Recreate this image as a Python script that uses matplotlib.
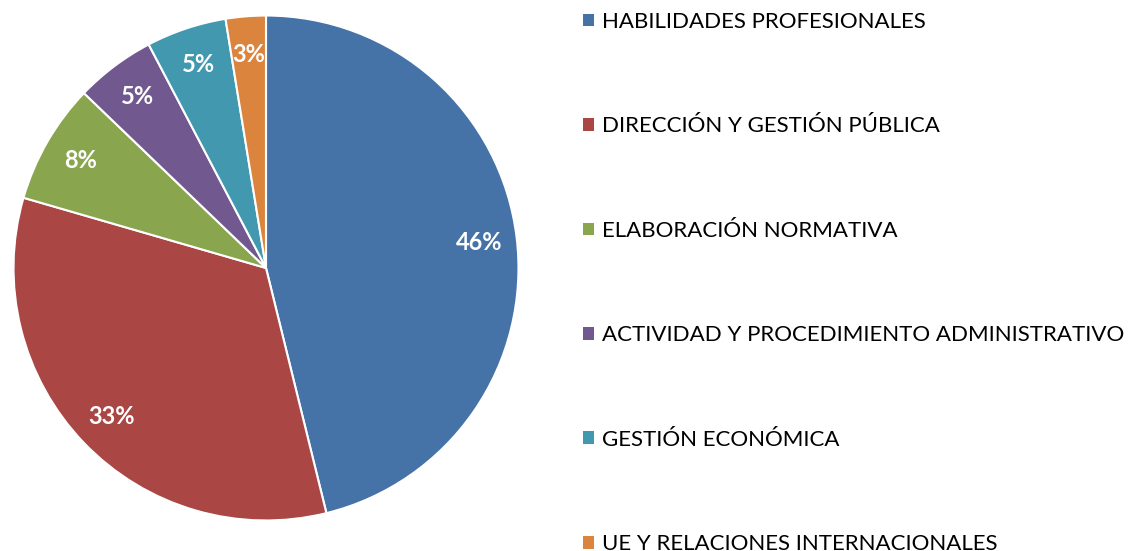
import matplotlib.pyplot as plt
from matplotlib.patches import Patch

plt.rcParams['font.family'] = ['Lato', 'DejaVu Sans']

# datos: número de cursos por área
areas = ["HABILIDADES PROFESIONALES", "DIRECCIÓN Y GESTIÓN PÚBLICA",
         "ELABORACIÓN NORMATIVA", "ACTIVIDAD Y PROCEDIMIENTO ADMINISTRATIVO",
         "GESTIÓN ECONÓMICA", "UE Y RELACIONES INTERNACIONALES"]
cursos = [18, 13, 3, 2, 2, 1]
colores = ["#4572A7", "#AA4643", "#89A54E", "#71588F", "#4198AF", "#DB843D"]

fig = plt.figure(figsize=(11.35, 5.51), dpi=100)
W, H = 1135, 551
ax = fig.add_axes([11 / W, 28 / H, 510 / W, 510 / H])

wedges, texts, autotexts = ax.pie(
    cursos, colors=colores, startangle=90, counterclock=False,
    autopct='%1.0f%%', pctdistance=0.85, radius=1.0,
    wedgeprops=dict(edgecolor='white', linewidth=1.5))
for t in autotexts:
    t.set_color('white')
    t.set_fontweight('bold')
    t.set_fontsize(17)
ax.set_xlim(-1.01, 1.01)
ax.set_ylim(-1.01, 1.01)
ax.set_aspect('equal')

handles = [Patch(facecolor=c, edgecolor='none') for c in colores]
fig.legend(handles, areas, loc='upper left', bbox_to_anchor=(574 / W, 1 - 3 / H),
           frameon=False, fontsize=16, handlelength=0.5, handleheight=0.5,
           handletextpad=0.35, labelspacing=3.8, borderaxespad=0)

fig.savefig('out.png', dpi=100)
